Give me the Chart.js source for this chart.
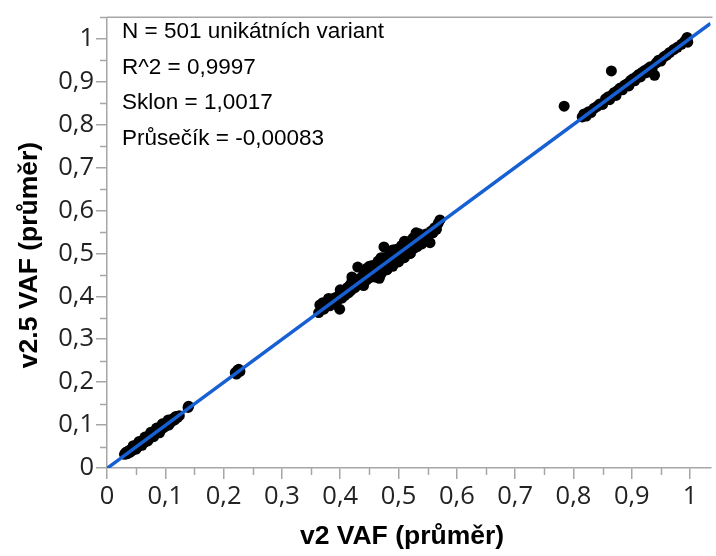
<!DOCTYPE html>
<html>
<head>
<meta charset="utf-8">
<script src="https://cdn.jsdelivr.net/npm/chart.js@4"></script>
<style>
  html, body { margin: 0; padding: 0; background: #fff; }
  #wrap { width: 716px; height: 556px; }
</style>
</head>
<body>
<div id="wrap"><canvas id="chart-1" width="716" height="556"></canvas></div>
<script>
// v2 VAF (x) vs v2.5 VAF (y)
const lowX = [0.030,0.032,0.034,0.035,0.037,0.038,0.040,0.041,0.042,0.044,0.045,0.046,0.047,0.048,0.049,0.050,0.051,0.052,0.053,0.054,0.055,0.056,0.057,0.058,0.059,0.060,0.061,0.062,0.063,0.064,0.065,0.066,0.067,0.068,0.069,0.070,0.072,0.073,0.074,0.076,0.077,0.078,0.080,0.081,0.083,0.085,0.086,0.088,0.090,0.091,0.093,0.095,0.097,0.099,0.101,0.104,0.106,0.108,0.110,0.113,0.116,0.118,0.121,0.124,0.139,0.140,
  0.045,0.055,0.065,0.075,0.085,0.095,0.105,0.050,0.060,0.070,0.080,0.090];
const lowY = [0.032,0.036,0.033,0.038,0.035,0.041,0.037,0.043,0.040,0.046,0.042,0.048,0.044,0.050,0.046,0.052,0.048,0.055,0.050,0.057,0.052,0.059,0.054,0.061,0.055,0.062,0.058,0.065,0.059,0.067,0.061,0.068,0.064,0.071,0.066,0.073,0.069,0.076,0.071,0.079,0.074,0.082,0.077,0.085,0.080,0.088,0.083,0.091,0.087,0.095,0.090,0.101,0.094,0.103,0.098,0.106,0.100,0.110,0.107,0.115,0.112,0.120,0.118,0.122,0.141,0.144,
  0.052,0.062,0.072,0.083,0.093,0.103,0.112,0.044,0.053,0.063,0.073,0.082];

const pairX = [0.220,0.222,0.224,0.226,0.228];
const pairY = [0.222,0.219,0.228,0.230,0.225];

const midX = [0.363,0.365,0.370,0.372,0.378,0.382,0.385,0.388,0.390,0.393,0.396,0.399,0.400,0.403,0.405,0.408,0.410,0.412,0.414,0.416,0.418,0.420,0.421,0.423,0.425,0.427,0.428,0.430,0.431,0.433,0.435,0.437,0.438,0.440,0.441,0.443,0.445,0.446,0.448,0.449,0.450,0.452,0.453,0.455,0.456,0.457,0.459,0.460,0.461,0.463,0.464,0.465,0.467,0.468,0.469,0.470,0.472,0.473,0.474,0.475,0.476,0.477,0.478,0.480,0.481,0.482,0.483,0.485,0.486,0.487,0.488,0.489,0.490,0.491,0.492,0.494,0.495,0.496,0.497,0.498,0.499,0.500,0.502,0.503,0.504,0.505,0.506,0.508,0.509,0.510,0.512,0.513,0.514,0.516,0.517,0.518,0.520,0.521,0.522,0.524,0.525,0.527,0.528,0.530,0.532,0.533,0.535,0.537,0.539,0.541,0.543,0.545,0.547,0.549,0.551,0.554,0.556,0.559,0.562,0.565,0.568,0.571,
  0.445,0.455,0.465,0.475,0.485,0.495,0.505,0.515,0.525,0.535,0.470,0.480,0.490,0.500,0.510,0.520,
  0.380,0.400,0.420,0.440,0.460,0.480,0.500,0.520,0.540,0.450,0.470,0.490,0.510,0.530,0.550];
const midY = [0.362,0.380,0.385,0.370,0.383,0.378,0.390,0.395,0.384,0.398,0.392,0.370,0.405,0.396,0.410,0.402,0.415,0.420,0.408,0.425,0.413,0.445,0.418,0.428,0.420,0.433,0.425,0.468,0.430,0.440,0.432,0.445,0.436,0.450,0.440,0.447,0.438,0.455,0.445,0.452,0.443,0.460,0.448,0.455,0.462,0.447,0.458,0.466,0.452,0.462,0.470,0.455,0.442,0.465,0.472,0.458,0.468,0.476,0.462,0.515,0.470,0.480,0.465,0.474,0.483,0.468,0.478,0.488,0.472,0.482,0.492,0.476,0.486,0.495,0.480,0.490,0.498,0.484,0.493,0.502,0.487,0.496,0.505,0.490,0.500,0.508,0.494,0.503,0.512,0.497,0.506,0.515,0.500,0.510,0.518,0.504,0.514,0.522,0.508,0.518,0.526,0.512,0.522,0.530,0.516,0.527,0.535,0.522,0.532,0.540,0.528,0.538,0.545,0.534,0.545,0.525,0.552,0.548,0.560,0.556,0.570,0.578,
  0.465,0.472,0.482,0.490,0.500,0.509,0.518,0.527,0.536,0.546,0.452,0.462,0.470,0.480,0.490,0.500,
  0.395,0.415,0.435,0.425,0.445,0.462,0.482,0.500,0.522,0.470,0.490,0.508,0.528,0.548,0.540];

const highX = [0.784,0.815,0.818,0.822,0.826,0.830,0.835,0.840,0.845,0.850,0.855,0.860,0.862,0.865,0.867,0.870,0.873,0.876,0.880,0.884,0.888,0.892,0.895,0.898,0.902,0.905,0.908,0.912,0.915,0.918,0.922,0.925,0.928,0.932,0.935,0.939,0.942,0.946,0.950,0.955,0.960,0.965,0.972,0.978,0.985,0.990,0.993,0.995,0.996];
const highY = [0.843,0.818,0.825,0.820,0.830,0.828,0.838,0.842,0.848,0.847,0.860,0.865,0.858,0.925,0.870,0.875,0.868,0.880,0.885,0.881,0.892,0.895,0.890,0.903,0.907,0.902,0.912,0.917,0.911,0.922,0.926,0.921,0.931,0.935,0.930,0.915,0.944,0.950,0.948,0.958,0.962,0.968,0.975,0.980,0.987,0.993,0.998,1.003,0.992];

const statLines = ["N = 501 unikátních variant", "R^2 = 0,9997", "Sklon = 1,0017", "Průsečík = -0,00083"];
const slope = 1.0017;
const intercept = -0.00083;
const axisMaxX = 1.035;
const axisMaxY = 1.05;

const xs = [...lowX, ...pairX, ...midX, ...highX];
const ys = [...lowY, ...pairY, ...midY, ...highY];
const points = xs.map((x, i) => ({ x: x, y: ys[i] }));
const fitLine = [0, axisMaxX].map(x => ({ x: x, y: slope * x + intercept }));

const axisGray = "#a6a6a6";
const tickFont = { family: "'Open Sans', 'Noto Sans', sans-serif", size: 25.5 };
const fmt = v => (Math.round(v * 10) / 10).toString().replace(".", ",");

// minor ticks, stat text, axis titles
const extras = {
  id: "extras",
  afterDraw(chart) {
    const c = chart.ctx;
    const sx = chart.scales.x, sy = chart.scales.y;
    const a = chart.chartArea;
    c.save();
    c.strokeStyle = axisGray;
    c.lineWidth = 1.5;
    for (let v = 0.05; v < axisMaxX; v += 0.1) {
      const px = Math.round(sx.getPixelForValue(v)) + 0.5;
      c.beginPath(); c.moveTo(px, a.bottom); c.lineTo(px, a.bottom + 7); c.stroke();
    }
    for (let v = 0.05; v < axisMaxY; v += 0.1) {
      const py = Math.round(sy.getPixelForValue(v)) + 0.5;
      c.beginPath(); c.moveTo(a.left, py); c.lineTo(a.left - 7, py); c.stroke();
    }
    // top frame line
    c.beginPath(); c.moveTo(a.left, a.top); c.lineTo(a.right + 2, a.top); c.stroke();

    c.fillStyle = "#000";
    c.font = "22.5px 'Liberation Sans', Arial, sans-serif";
    c.textBaseline = "middle";
    c.textAlign = "left";
    statLines.forEach((t, i) => c.fillText(t, a.left + 15, 32 + i * 35.5));

    c.font = "bold 26.5px 'Liberation Sans', Arial, sans-serif";
    c.textAlign = "center";
    c.fillText("v2 VAF (průměr)", 402, 537);
    c.translate(30, 255);
    c.rotate(-Math.PI / 2);
    c.fillText("v2.5 VAF (průměr)", 0, 0);
    c.restore();
  }
};

const ctx1 = document.getElementById("chart-1").getContext("2d");
const myChart1 = new Chart(ctx1, {
  type: "scatter",
  data: {
    datasets: [
      {
        type: "line",
        label: "fit",
        data: fitLine,
        borderColor: "#1660d4",
        borderWidth: 3.5,
        pointRadius: 0,
        fill: false,
        order: 0,
      },
      {
        label: "varianty",
        data: points,
        backgroundColor: "#000",
        borderWidth: 0,
        pointRadius: 5.5,
        order: 1,
      },
    ],
  },
  options: {
    responsive: false,
    animation: false,
    layout: { padding: { top: 6, right: 2, left: 0, bottom: 0 } },
    plugins: { legend: { display: false }, tooltip: { enabled: false } },
    scales: {
      x: {
        type: "linear",
        min: 0,
        max: axisMaxX,
        afterFit(s) { s.height = 88; },
        border: { color: axisGray, width: 1.5 },
        grid: { drawOnChartArea: false, drawTicks: true, tickLength: 11, tickColor: axisGray, lineWidth: 1.5 },
        ticks: {
          stepSize: 0.1,
          includeBounds: false,
          maxRotation: 0,
          padding: 2,
          color: "#222",
          font: tickFont,
          callback: v => fmt(v),
        },
      },
      y: {
        type: "linear",
        min: 0,
        max: axisMaxY,
        afterFit(s) { s.width = 107; },
        border: { color: axisGray, width: 1.5 },
        grid: { drawOnChartArea: false, drawTicks: true, tickLength: 11, tickColor: axisGray, lineWidth: 1.5 },
        ticks: {
          stepSize: 0.1,
          includeBounds: false,
          padding: 2,
          color: "#222",
          font: tickFont,
          callback: v => fmt(v),
        },
      },
    },
  },
  plugins: [extras],
});
</script>
</body>
</html>
